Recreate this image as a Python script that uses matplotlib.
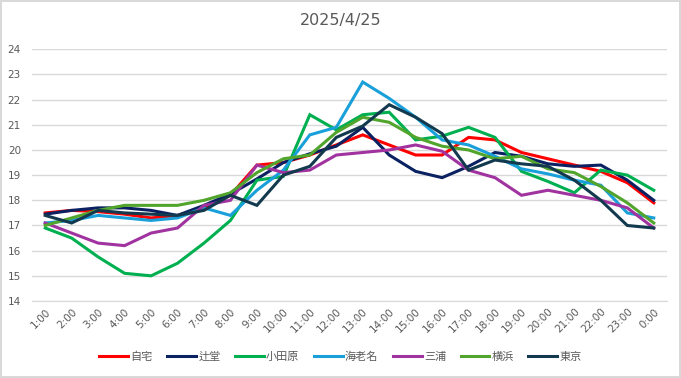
import matplotlib
matplotlib.use("Agg")
import matplotlib.pyplot as plt

plt.rcParams['font.family'] = ['Noto Sans CJK JP', 'DejaVu Sans']

hours = ["1:00", "2:00", "3:00", "4:00", "5:00", "6:00", "7:00", "8:00", "9:00", "10:00",
         "11:00", "12:00", "13:00", "14:00", "15:00", "16:00", "17:00", "18:00", "19:00",
         "20:00", "21:00", "22:00", "23:00", "0:00"]

jitaku = [17.5, 17.6, 17.55, 17.45, 17.3, 17.4, 17.7, 18.2, 19.4, 19.5, 19.8, 20.2,
          20.6, 20.2, 19.8, 19.8, 20.5, 20.4, 19.9, 19.65, 19.4, 19.15, 18.7, 17.9]
tsujido = [17.45, 17.6, 17.7, 17.7, 17.6, 17.4, 17.8, 18.25, 18.85, 19.5, 19.85, 20.15,
           20.9, 19.8, 19.15, 18.9, 19.35, 19.9, 19.75, 19.45, 19.35, 19.4, 18.8, 18.0]
odawara = [16.9, 16.5, 15.75, 15.1, 15.0, 15.5, 16.3, 17.2, 18.8, 18.95, 21.4, 20.8,
           21.4, 21.5, 20.4, 20.55, 20.9, 20.5, 19.15, 18.75, 18.3, 19.2, 19.0, 18.4]
ebina = [17.1, 17.2, 17.4, 17.3, 17.2, 17.3, 17.7, 17.4, 18.4, 19.2, 20.6, 20.9,
         22.7, 22.05, 21.3, 20.4, 20.2, 19.75, 19.25, 19.05, 18.8, 18.6, 17.5, 17.3]
miura = [17.1, 16.7, 16.3, 16.2, 16.7, 16.9, 17.8, 18.0, 19.4, 19.1, 19.2, 19.8,
         19.9, 20.0, 20.2, 19.95, 19.2, 18.9, 18.2, 18.4, 18.2, 18.0, 17.7, 16.9]
yokohama = [17.0, 17.3, 17.6, 17.8, 17.8, 17.8, 18.0, 18.3, 19.1, 19.65, 19.8, 20.7,
            21.3, 21.1, 20.5, 20.15, 20.0, 19.65, 19.75, 19.25, 19.1, 18.55, 17.9, 17.1]
tokyo = [17.4, 17.1, 17.6, 17.5, 17.45, 17.4, 17.6, 18.2, 17.8, 19.0, 19.35, 20.5,
         20.95, 21.8, 21.3, 20.65, 19.2, 19.6, 19.45, 19.35, 18.8, 18.0, 17.0, 16.9]

series = [
    ("自宅", jitaku, "#FF0000"),
    ("辻堂", tsujido, "#0B2262"),
    ("小田原", odawara, "#00B050"),
    ("海老名", ebina, "#19A0DA"),
    ("三浦", miura, "#A0339F"),
    ("横浜", yokohama, "#52A52C"),
    ("東京", tokyo, "#12394E"),
]

fig = plt.figure(figsize=(6.81, 3.78), dpi=100)
fig.patch.set_facecolor("white")
fig.patch.set_edgecolor("#D9D9D9")
fig.patch.set_linewidth(1.5)

ax = fig.add_axes([32/681, 1-301/378, 635/681, (301-49.3)/378])
x = list(range(len(hours)))
for name, vals, col in series:
    ax.plot(x, vals, color=col, lw=2.2, label=name, solid_joinstyle='miter')

ax.set_xlim(-0.5, len(hours)-0.5)
ax.set_ylim(14, 24)
ax.set_yticks(range(14, 25))
ax.set_xticks(x)
ax.set_xticklabels(hours, rotation=45, ha='right', rotation_mode='anchor',
                   fontsize=7.5, color="#595959", family='DejaVu Sans')
for lab in ax.get_yticklabels():
    lab.set_family('DejaVu Sans')
ax.tick_params(axis='y', labelsize=7.5, labelcolor="#595959", length=0, pad=8)
ax.tick_params(axis='x', length=0, pad=4)
ax.grid(axis='y', color="#D9D9D9", lw=1)
ax.set_axisbelow(True)
for s in ["top", "right", "left"]:
    ax.spines[s].set_visible(False)
ax.spines["bottom"].set_color("#D9D9D9")

fig.text(0.5, 1-20/378, "2025/4/25", ha='center', va='center', fontsize=11.5,
         color="#595959", family='DejaVu Sans')

leg = fig.legend(loc='center', bbox_to_anchor=(0.5, 1-357/378), ncol=7, frameon=False,
                 fontsize=8, handlelength=2.6, columnspacing=1.3, handletextpad=0.2)
for t in leg.get_texts():
    t.set_color("#595959")

fig.savefig("out.png", dpi=100, facecolor=fig.get_facecolor(), edgecolor=fig.get_edgecolor())
